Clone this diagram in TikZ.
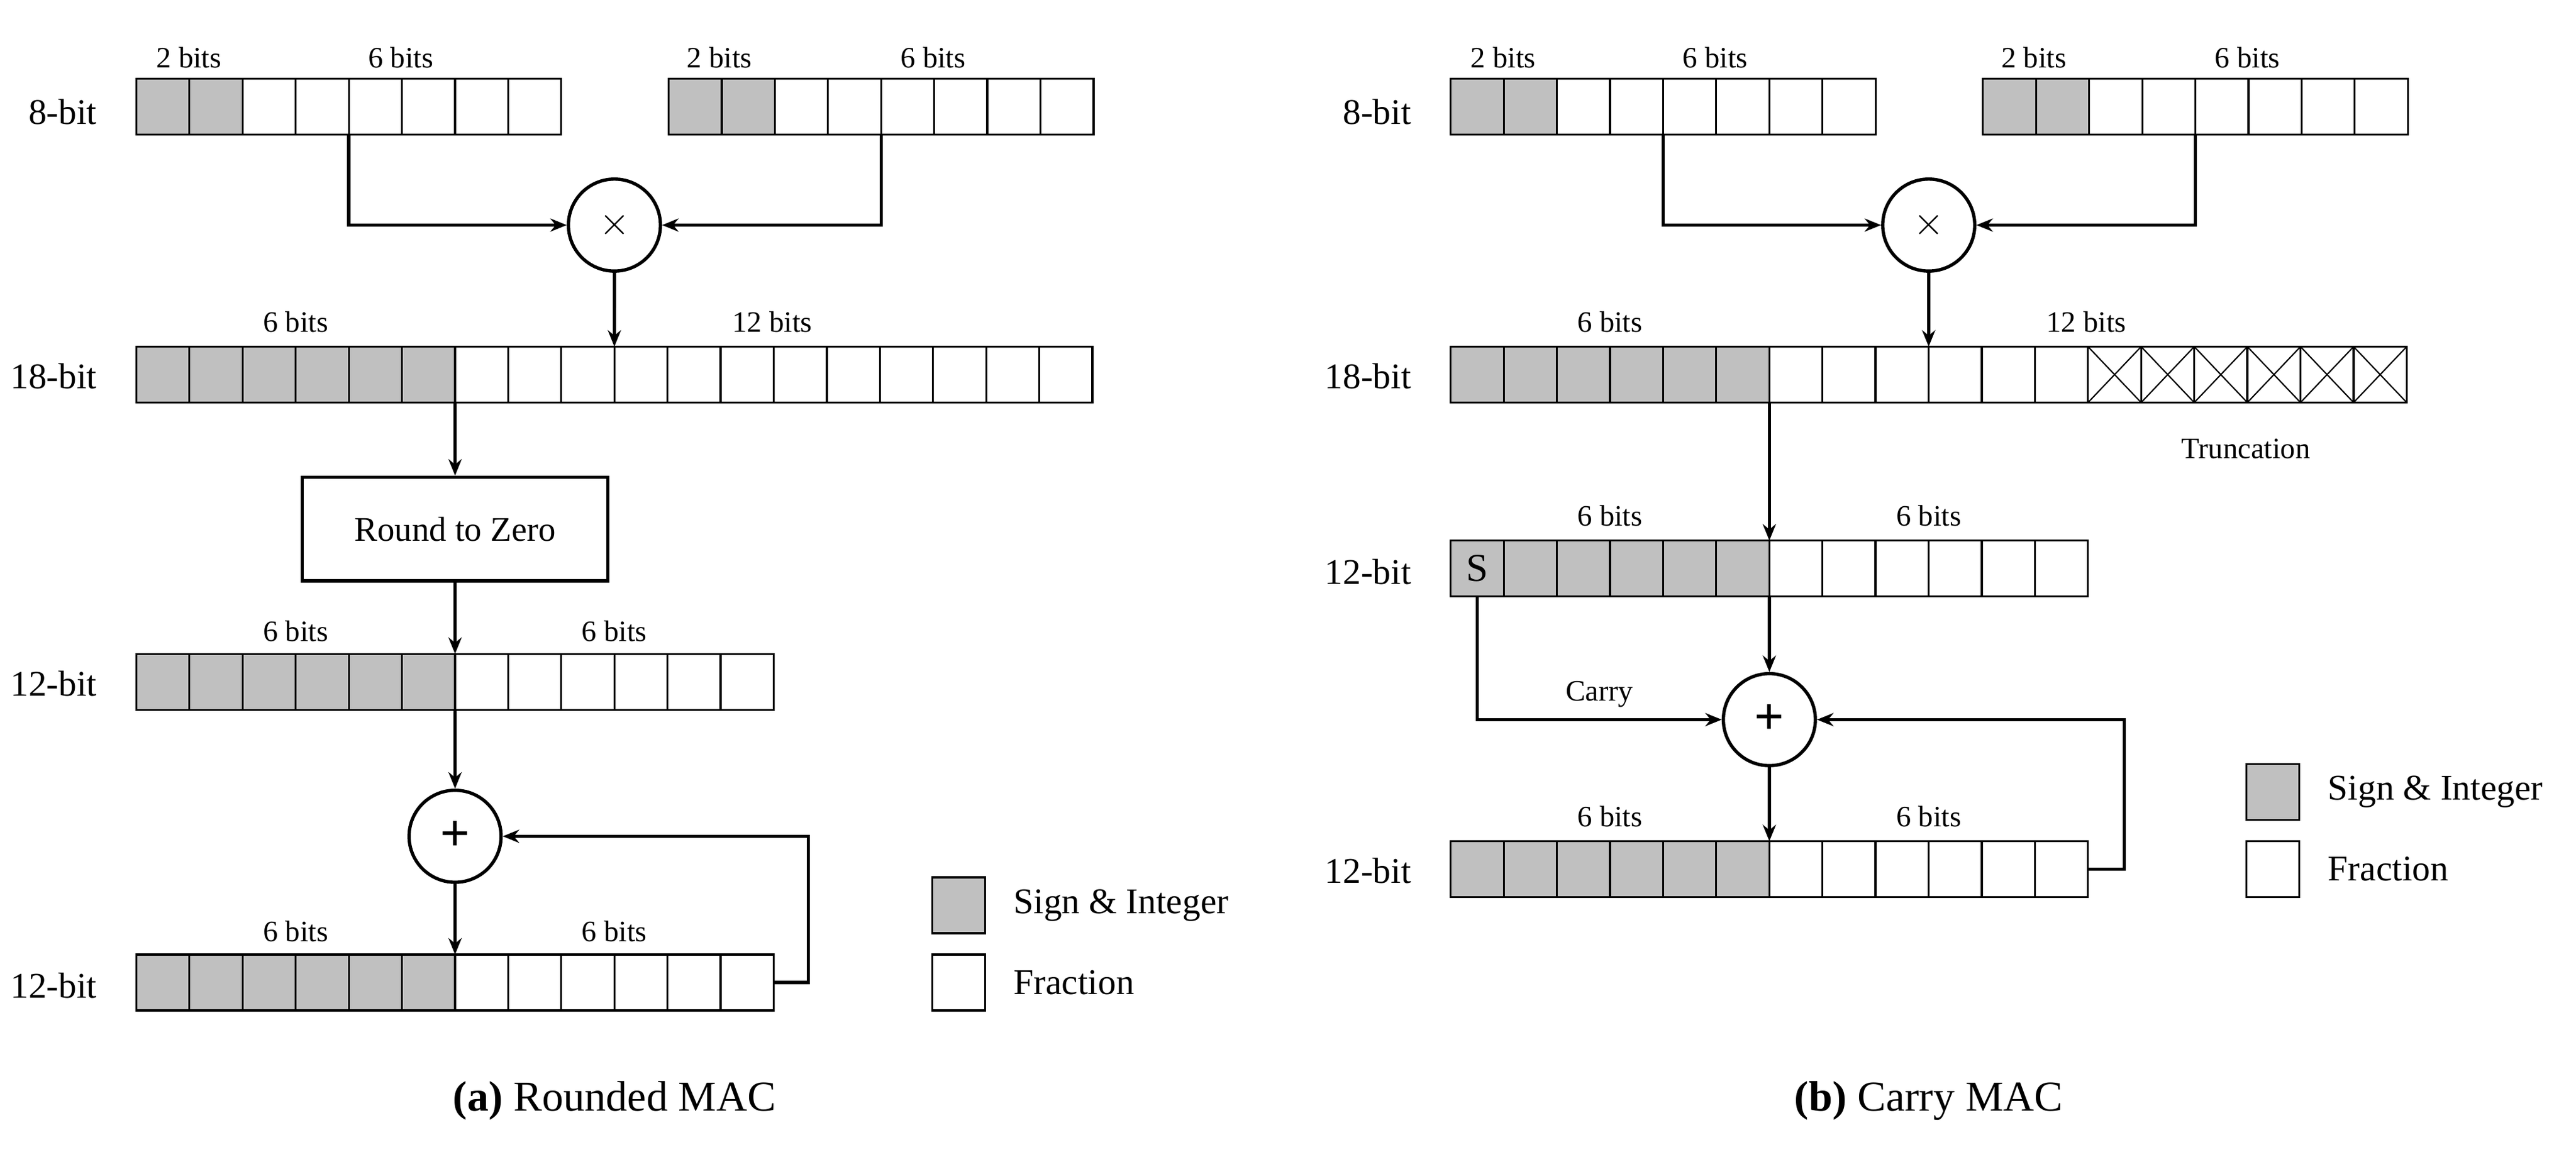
\documentclass[tikz,border=0pt]{standalone}
\usepackage{fontspec}
\setmainfont{Liberation Serif}
\usetikzlibrary{arrows.meta}
\newcommand\bitrow[6]{%
  \foreach \i in {1,...,#4}{%
    \pgfmathsetmacro\cx{#2+(\i-0.5)*32.33}%
    \pgfmathtruncatemacro\isg{\i<=#5 ? 1 : 0}%
    \pgfmathtruncatemacro\isx{\i>#4-#6 ? 1 : 0}%
    \ifnum\isg=1
      \node[cell,fill=cellgray] (#1-\i) at (\cx,#3) {};
    \else
      \node[cell] (#1-\i) at (\cx,#3) {};
    \fi
    \ifnum\isx=1
      \draw[thin] (#1-\i.north west) -- (#1-\i.south east) (#1-\i.south west) -- (#1-\i.north east);
    \fi
  }}
\definecolor{cellgray}{RGB}{192,192,192}
\begin{document}
\begin{tikzpicture}[x=0.5pt,y=-0.5pt,
  cell/.style={draw,line width=0.6pt,minimum width=16.17pt,minimum height=17pt,inner sep=0pt,outer sep=0pt},
  op/.style={draw,circle,line width=1pt,minimum size=28pt,inner sep=0pt},
  arr/.style={line width=1pt,-{Stealth[length=5pt,width=4pt]}},
  lab/.style={font=\fontsize{11}{13}\selectfont,anchor=east},
  bits/.style={font=\fontsize{9}{11}\selectfont},
  leg/.style={font=\fontsize{11}{13}\selectfont,anchor=west},
  captxt/.style={font=\fontsize{13}{15}\selectfont}]
\useasboundingbox (0,0) rectangle (1568,701);
% ===== (a) =====
\bitrow{aa}{83}{65}{8}{2}{0}
\bitrow{ab}{407}{65}{8}{2}{0}
\node[lab] (la1) at (66,68) {8-bit};
\node[bits] (ta1) at (115,35) {2 bits};
\node[bits] (ta2) at (244,35) {6 bits};
\node[bits] (ta3) at (438,35) {2 bits};
\node[bits] (ta4) at (568,35) {6 bits};
\node[op] (amul) at (374,137) {\fontsize{13}{13}\selectfont$\times$};
\draw[arr] (aa-4.south east) |- (amul.west);
\draw[arr] (ab-4.south east) |- (amul.east);
\bitrow{ac}{83}{228}{18}{6}{0}
\node[lab] (la2) at (66,229) {18-bit};
\node[bits] (ta5) at (180,196) {6 bits};
\node[bits] (ta6) at (470,196) {12 bits};
\draw[arr] (amul.south) -- (ac-10.north west);
\node[draw,line width=1pt,minimum width=93pt,minimum height=31.5pt,font=\fontsize{10.5}{12}\selectfont] (round) at (277,322) {Round to Zero};
\draw[arr] (ac-6.south east) -- (round.north);
\bitrow{ad}{83}{415}{12}{6}{0}
\node[lab] (la3) at (66,416) {12-bit};
\node[bits] (ta7) at (180,384) {6 bits};
\node[bits] (ta8) at (374,384) {6 bits};
\draw[arr] (round.south) -- (ad-6.north east);
\node[op] (aadd) at (277,509) {\fontsize{16}{16}\selectfont\textbf{+}};
\draw[arr] (ad-6.south east) -- (aadd.north);
\bitrow{ae}{83}{598}{12}{6}{0}
\node[lab] (la4) at (66,600) {12-bit};
\node[bits] (ta9) at (180,567) {6 bits};
\node[bits] (ta10) at (374,567) {6 bits};
\draw[arr] (aadd.south) -- (ae-6.north east);
\coordinate (afb) at (492,509);
\draw[arr] (ae-12.east) -| (afb) -- (aadd.east);
\node[cell,fill=cellgray] (lg1) at (583.5,551) {};
\node[leg] (lg1t) at (610,551) {Sign \& Integer};
\node[cell] (lg2) at (583.5,598) {};
\node[leg] (lg2t) at (610,598) {Fraction};
\node[captxt] (capa) at (374,670) {\textbf{(a)} Rounded MAC};
% ===== (b) =====
\bitrow{ba}{883}{65}{8}{2}{0}
\bitrow{bb}{1207}{65}{8}{2}{0}
\node[lab] (lb1) at (866,68) {8-bit};
\node[bits] (tb1) at (915,35) {2 bits};
\node[bits] (tb2) at (1044,35) {6 bits};
\node[bits] (tb3) at (1238,35) {2 bits};
\node[bits] (tb4) at (1368,35) {6 bits};
\node[op] (bmul) at (1174,137) {\fontsize{13}{13}\selectfont$\times$};
\draw[arr] (ba-4.south east) |- (bmul.west);
\draw[arr] (bb-4.south east) |- (bmul.east);
\bitrow{bc}{883}{228}{18}{6}{6}
\node[lab] (lb2) at (866,229) {18-bit};
\node[bits] (tb5) at (980,196) {6 bits};
\node[bits] (tb6) at (1270,196) {12 bits};
\node[bits] (trunc) at (1367,273) {Truncation};
\draw[arr] (bmul.south) -- (bc-10.north west);
\bitrow{bd}{883}{346}{12}{6}{0}
\node[font=\fontsize{12}{12}\selectfont] (sl) at (bd-1) {S};
\node[lab] (lb3) at (866,348) {12-bit};
\node[bits] (tb7) at (980,314) {6 bits};
\node[bits] (tb8) at (1174,314) {6 bits};
\draw[arr] (bc-6.south east) -- (bd-6.north east);
\node[op] (badd) at (1077,438) {\fontsize{16}{16}\selectfont\textbf{+}};
\draw[arr] (bd-6.south east) -- (badd.north);
\draw[arr] (bd-1.south) |- (badd.west) node[bits,pos=0.75,above] {Carry};
\bitrow{be}{883}{529}{12}{6}{0}
\node[lab] (lb4) at (866,530) {12-bit};
\node[bits] (tb9) at (980,497) {6 bits};
\node[bits] (tb10) at (1174,497) {6 bits};
\draw[arr] (badd.south) -- (be-6.north east);
\coordinate (bfb) at (1293,438);
\draw[arr] (be-12.east) -| (bfb) -- (badd.east);
\node[cell,fill=cellgray] (lg3) at (1383.5,482) {};
\node[leg] (lg3t) at (1410,482) {Sign \& Integer};
\node[cell] (lg4) at (1383.5,529) {};
\node[leg] (lg4t) at (1410,529) {Fraction};
\node[captxt] (capb) at (1174,670) {\textbf{(b)} Carry MAC};
\end{tikzpicture}
\end{document}
